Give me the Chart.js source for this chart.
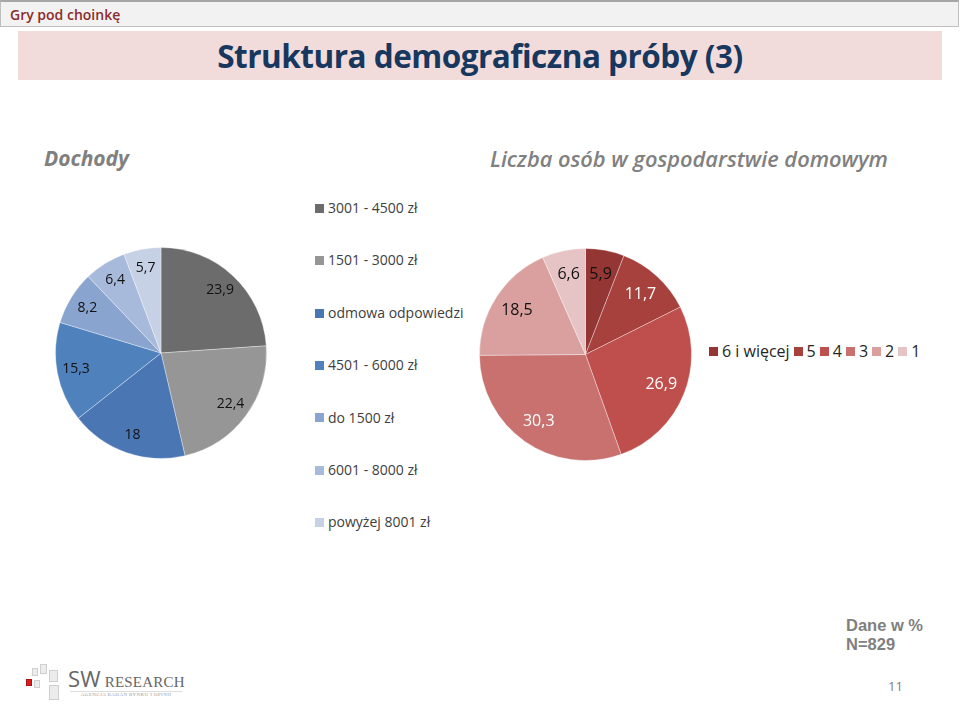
<!DOCTYPE html>
<html lang="pl">
<head>
    <meta charset="UTF-8">
    <title>Struktura demograficzna próby (3)</title>
    <style>
        * { margin: 0; padding: 0; box-sizing: border-box; font-family: "Open Sans", Arial, sans-serif; }
        body { width: 960px; height: 708px; position: relative; background: #fff; overflow: hidden; }
        .topbar { position: absolute; left: 0; top: 0; width: 959px; height: 27px; background: #f2f2f2;
                  border: 1px solid #bfbfbf; border-top: 2px solid #a6a6a6; }
        .topbar span { position: absolute; left: 9px; top: 3px; font-size: 14px; font-weight: 600; color: #8a2c2c; }
        .titlebox { position: absolute; left: 18px; top: 31px; width: 924px; height: 49px; background: #f2dcdb;
                    text-align: center; line-height: 49px; font-size: 31.5px; font-weight: 700; color: #17375e; letter-spacing: -0.5px; }
        .sub { position: absolute; top: 144px; font-size: 21px; font-style: italic; color: #808080; }
        canvas { position: absolute; }
        .legend-v { position: absolute; left: 315px; top: 0; }
        .legend-v div { position: absolute; left: 0; white-space: nowrap; font-size: 14px; color: #404040; line-height: 20px; }
        .legend-h { position: absolute; left: 709px; top: 340px; display: flex; align-items: center; white-space: nowrap;
                    font-size: 16px; color: #262626; line-height: 22px; }
        .sq { display: inline-block; width: 9px; height: 9px; margin-right: 4px; vertical-align: middle; position: relative; top: -1px; }
        .legend-h span.item { margin-right: 4px; }
        .note { position: absolute; left: 846px; font-family: "Liberation Sans", Arial, sans-serif; font-size: 16.5px;
                font-weight: 700; color: #7f7f7f; line-height: 19px; }
        .page { position: absolute; left: 888px; top: 677px; font-size: 13px; color: #808080; }
        .logo { position: absolute; left: 20px; top: 660px; width: 175px; height: 45px; }
        .logo .sqs div { position: absolute; border: 1px solid #cfcfcf; background: #ececec; }
        .logo .name { position: absolute; left: 48px; top: 3px; font-family: "Liberation Serif", "DejaVu Serif", serif; color: #666; font-size: 15px; letter-spacing: 0.2px; }
        .logo .name b { font-weight: 400; font-size: 22px; }
        .logo .tag { position: absolute; left: 50px; top: 31px; width: 112px; border-top: 1px solid #ddd;
                     font-family: "Liberation Serif", serif; font-size: 5px; color: #999; text-align: center; letter-spacing: 0.4px; }
    </style>
    <script src="https://cdn.jsdelivr.net/npm/chart.js"></script>
</head>
<body>
    <div class="topbar"><span>Gry pod choinkę</span></div>
    <div class="titlebox">Struktura demograficzna próby (3)</div>
    <div class="sub" style="left:44px; font-weight:700;">Dochody</div>
    <div class="sub" style="left:490px; font-weight:600; font-size:21.8px; top:144px;">Liczba osób w gospodarstwie domowym</div>

    <canvas id="incomeChart" width="212" height="212" style="left:55px; top:247px;"></canvas>
    <div class="legend-v" id="incomeLegend"></div>

    <canvas id="householdChart" width="213" height="213" style="left:479px; top:248px;"></canvas>
    <div class="legend-h" id="householdLegend"></div>

    <div class="note" style="top:616px;">Dane w %</div>
    <div class="note" style="top:635px;">N=829</div>
    <div class="page">11</div>

    <div class="logo">
        <div class="sqs">
            <div style="left:12px; top:8px; width:6px; height:8px;"></div>
            <div style="left:20px; top:4px; width:7px; height:10px;"></div>
            <div style="left:29px; top:10px; width:9px; height:12px;"></div>
            <div style="left:6px; top:19px; width:6px; height:7px; background:#d42020; border-color:#b01010;"></div>
            <div style="left:14px; top:20px; width:6px; height:8px;"></div>
            <div style="left:29px; top:25px; width:10px; height:15px;"></div>
        </div>
        <div class="name"><b>SW</b> RESEARCH</div>
        <div class="tag">AGENCJA BADAŃ RYNKU I OPINII</div>
    </div>

    <script>
        // Dochody
        const incomeLabels = ['3001 - 4500 zł', '1501 - 3000 zł', 'odmowa odpowiedzi', '4501 - 6000 zł',
                              'do 1500 zł', '6001 - 8000 zł', 'powyżej 8001 zł'];
        const incomeValues = [23.9, 22.4, 18, 15.3, 8.2, 6.4, 5.7];

        // Liczba osób w gospodarstwie domowym
        const householdLabels = ['6 i więcej', '5', '4', '3', '2', '1'];
        const householdValues = [5.9, 11.7, 26.9, 30.3, 18.5, 6.6];

        const incomeColors = ['#6c6c6c', '#969696', '#4a76b3', '#4f81bd', '#88a4cf', '#a8badb', '#c7d1e5'];
        const householdColors = ['#943634', '#a7413d', '#bf4f4c', '#c9716f', '#d9a09f', '#e6c4c5'];
        const householdTextColors = ['#111', '#fff', '#fff', '#fff', '#111', '#111'];

        const fmt = v => String(v).replace('.', ',');

        // value labels inside slices
        const sliceLabels = {
            id: 'sliceLabels',
            afterDatasetsDraw(chart, args, opts) {
                const ctx = chart.ctx;
                const meta = chart.getDatasetMeta(0);
                const values = chart.data.datasets[0].data;
                ctx.save();
                ctx.font = opts.font;
                ctx.textAlign = 'center';
                ctx.textBaseline = 'middle';
                meta.data.forEach((arc, i) => {
                    const p = arc.getProps(['x', 'y', 'startAngle', 'endAngle', 'outerRadius'], true);
                    const mid = (p.startAngle + p.endAngle) / 2;
                    const r = p.outerRadius * opts.dist;
                    ctx.fillStyle = opts.colors[i];
                    ctx.fillText(fmt(values[i]), p.x + Math.cos(mid) * r, p.y + Math.sin(mid) * r);
                });
                ctx.restore();
            }
        };

        function makePie(id, labels, values, colors, labelOpts) {
            return new Chart(document.getElementById(id), {
                type: 'pie',
                data: {
                    labels: labels,
                    datasets: [{
                        data: values,
                        backgroundColor: colors,
                        borderColor: 'rgba(255,255,255,0.35)',
                        borderWidth: 1
                    }]
                },
                options: {
                    responsive: false,
                    animation: false,
                    devicePixelRatio: 1,
                    layout: { padding: 0 },
                    plugins: {
                        legend: { display: false },
                        tooltip: { enabled: false },
                        sliceLabels: labelOpts
                    }
                },
                plugins: [sliceLabels]
            });
        }

        makePie('incomeChart', incomeLabels, incomeValues, incomeColors, {
            font: '14px "Open Sans"', dist: 0.82, colors: incomeColors.map(() => '#111')
        });
        makePie('householdChart', householdLabels, householdValues, householdColors, {
            font: '16px "Open Sans"', dist: 0.77, colors: householdTextColors
        });

        // legends
        const incomeLegend = document.getElementById('incomeLegend');
        incomeLabels.forEach((l, i) => {
            const d = document.createElement('div');
            d.style.top = (198 + i * 52.4) + 'px';
            d.innerHTML = '<span class="sq" style="background:' + incomeColors[i] + '"></span>' + l;
            incomeLegend.appendChild(d);
        });
        const householdLegend = document.getElementById('householdLegend');
        householdLabels.forEach((l, i) => {
            const s = document.createElement('span');
            s.className = 'item';
            s.innerHTML = '<span class="sq" style="background:' + householdColors[i] + '"></span>' + l;
            householdLegend.appendChild(s);
        });
    </script>
</body>
</html>
